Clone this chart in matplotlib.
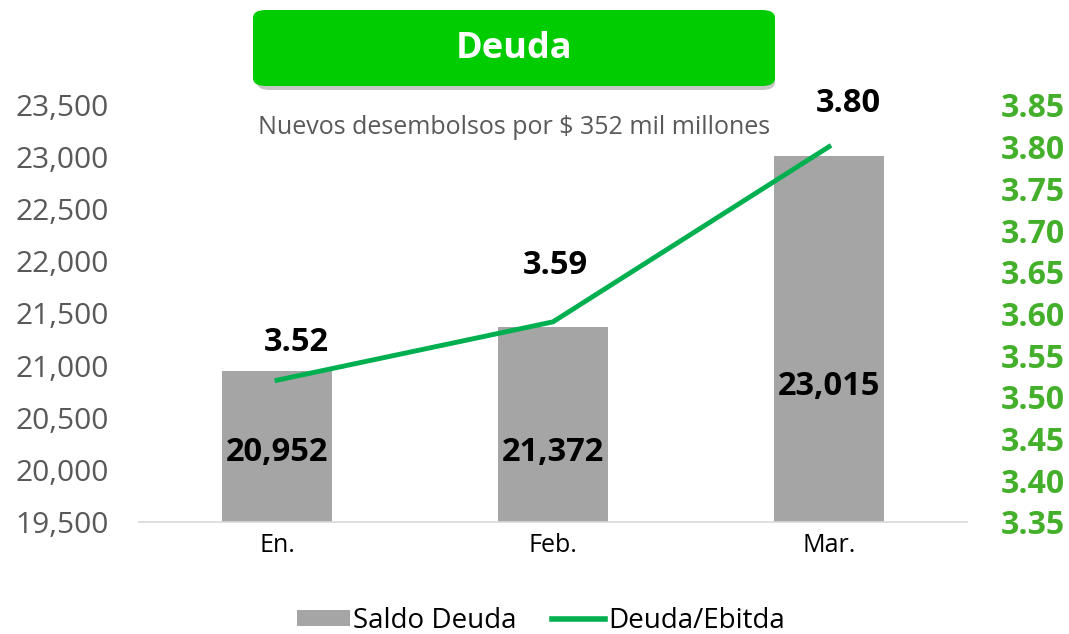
import matplotlib
matplotlib.use("Agg")
import matplotlib.pyplot as plt
from matplotlib.patches import FancyBboxPatch, Rectangle
from matplotlib.lines import Line2D
from matplotlib.ticker import FuncFormatter, MultipleLocator

categories = ["En.", "Feb.", "Mar."]
saldo_deuda = [20952, 21372, 23015]
deuda_ebitda = [3.52, 3.59, 3.80]
title = "Deuda"
subtitle = "Nuevos desembolsos por $ 352 mil millones"

FONT = "Open Sans"
plt.rcParams['font.family'] = [FONT, 'DejaVu Sans']

fig = plt.figure(figsize=(10.69, 6.34), dpi=100)
W, H = 1069, 634
ax = fig.add_axes([139 / W, (H - 522) / H, (967 - 139) / W, (522 - 105) / H])
ax2 = ax.twinx()

x = list(range(len(categories)))
ax.bar(x, saldo_deuda, width=0.4, color="#A5A5A5", zorder=2)
ax.set_xlim(-0.5, 2.5)
ax.set_ylim(19500, 23500)
ax.yaxis.set_major_locator(MultipleLocator(500))
ax.yaxis.set_major_formatter(FuncFormatter(lambda v, p: f"{v:,.0f}"))
ax.set_xticks(x)
ax.set_xticklabels(categories, fontsize=18, color="#000000")
ax.tick_params(axis='y', labelsize=21.5, labelcolor="#595959", length=0, pad=22)
ax.tick_params(axis='x', length=0, pad=8)
for s in ["top", "right", "left"]:
    ax.spines[s].set_visible(False)
ax.spines["bottom"].set_color("#D9D9D9")
ax.spines["bottom"].set_linewidth(1.2)

ax2.plot(x, deuda_ebitda, color="#00B050", linewidth=3.5, zorder=3)
ax2.set_ylim(3.35, 3.85)
ax2.yaxis.set_major_locator(MultipleLocator(0.05))
ax2.yaxis.set_major_formatter(FuncFormatter(lambda v, p: f"{v:.2f}"))
ax2.tick_params(axis='y', labelsize=23, labelcolor="#44AF2A", length=0, pad=24)
for lab in ax2.get_yticklabels():
    lab.set_fontweight("bold")
for s in ["top", "right", "left", "bottom"]:
    ax2.spines[s].set_visible(False)

# bar value labels
for xi, v in zip(x, saldo_deuda):
    yy = 20795 if v > 22500 else 20171
    ax.text(xi, yy, f"{v:,}", ha="center", va="center", fontsize=23.5,
            fontweight="bold", color="black", zorder=4)

# line value labels
offsets = [(0.07, 0.045), (0.01, 0.067), (0.07, 0.052)]
for xi, v, (dx, dy) in zip(x, deuda_ebitda, offsets):
    ax2.text(xi + dx, v + dy, f"{v:.2f}", ha="center", va="center", fontsize=23.5,
             fontweight="bold", color="black", zorder=4, clip_on=False)

# title box with shadow
shadow = FancyBboxPatch((257 / W, 1 - 90 / H), (775 - 257) / W, (90 - 14) / H,
                        boxstyle="round,pad=0,rounding_size=0.012",
                        transform=fig.transFigure, facecolor="#A0A0A0",
                        edgecolor="none", alpha=0.6, zorder=1)
fig.patches.append(shadow)
box = FancyBboxPatch((253 / W, 1 - 86 / H), (775 - 253) / W, (86 - 10) / H,
                     boxstyle="round,pad=0,rounding_size=0.012",
                     transform=fig.transFigure, facecolor="#00CC00",
                     edgecolor="none", zorder=2)
fig.patches.append(box)
fig.text(514 / W, 1 - 49 / H, title, ha="center", va="center", fontsize=26,
         fontweight="bold", color="white", zorder=3)
fig.text(514 / W, 1 - 128 / H, subtitle, ha="center", va="center", fontsize=18,
         color="#595959")

# legend
handles = [Rectangle((0, 0), 1, 1, facecolor="#A5A5A5", edgecolor="none"),
           Line2D([0], [0], color="#00B050", linewidth=4)]
fig.legend(handles, ["Saldo Deuda", "Deuda/Ebitda"], loc="center",
           bbox_to_anchor=(541 / W, 1 - 621 / H), ncol=2, frameon=False,
           fontsize=20, handlelength=1.9, handleheight=0.5, handletextpad=0.1,
           columnspacing=1.3, labelcolor="black")

fig.savefig("out.png", dpi=100)
